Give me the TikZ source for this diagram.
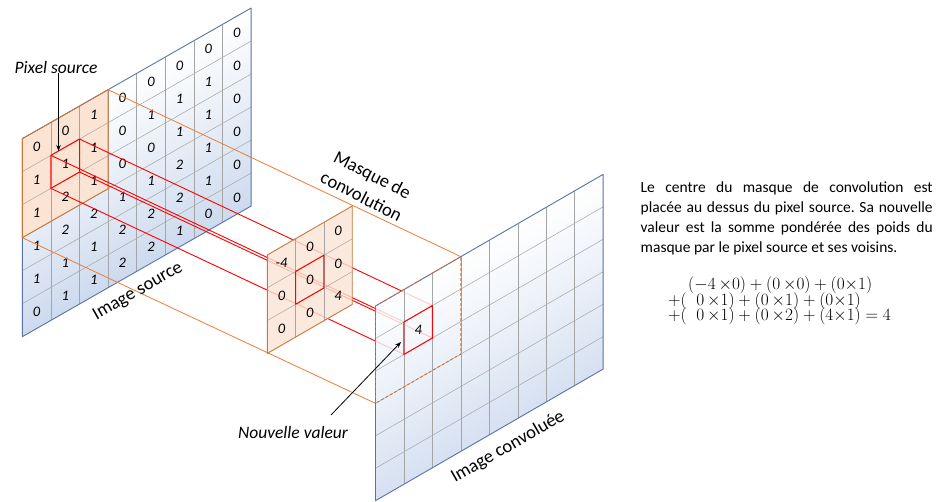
\documentclass[tikz,border=0pt]{standalone}
\usepackage[no-math]{fontspec}
\setmainfont{Carlito}
\usetikzlibrary{arrows.meta}
\definecolor{bluedge}{RGB}{88,114,168}
\definecolor{bluebot}{RGB}{205,218,238}
\definecolor{gridgray}{RGB}{165,165,165}
\definecolor{orfill}{RGB}{251,228,212}
\definecolor{orangeedge}{RGB}{200,118,58}
\definecolor{orline}{RGB}{237,125,49}
\definecolor{redline}{RGB}{255,0,0}
\frenchspacing
\begin{document}
\begin{tikzpicture}[
  gridl/.style={draw=gridgray, line width=0.5pt},
  planeedge/.style={draw=bluedge, line width=0.9pt, line join=round},
  oedge/.style={draw=orangeedge, line width=0.9pt, line join=round},
  ray/.style={draw=redline, line width=0.9pt},
  orray/.style={draw=orline, line width=0.8pt},
  redbox/.style={draw=redline, line width=1pt, line join=round},
  digit/.style={font=\fontsize{14.5}{14.5}\selectfont\itshape, inner sep=0pt},
  lbl/.style={font=\fontsize{18.5}{24}\selectfont, inner sep=0pt},
  ilbl/.style={font=\fontsize{17.5}{20}\selectfont\itshape, inner sep=0pt},
  pointer/.style={draw=black, line width=0.8pt, -{Stealth[length=6pt,width=4.5pt]}},
  eq/.style={font=\fontsize{16.5}{16.5}\selectfont, inner sep=0pt},
  srcframe/.style={shift={(22.3pt,-138.7pt)}, x={(28.6pt,16.33pt)}, y={(0pt,-33pt)}},
  mskframe/.style={shift={(267.3pt,-255pt)}, x={(28.33pt,16.33pt)}, y={(0pt,-32.8pt)}},
  outframe/.style={shift={(375.5pt,-306pt)}, x={(28.45pt,16.45pt)}, y={(0pt,-32.45pt)}}
]
\useasboundingbox (0pt,0pt) rectangle (940pt,-502pt);

% ---------- source image ----------
\begin{scope}[transform canvas={shift={(22.3pt,-138.7pt)}, yslant=0.571}]
  \shade[top color=white, bottom color=bluebot] (0pt,0pt) rectangle (228.8pt,-198pt);
\end{scope}
\begin{scope}[srcframe]
  \fill[orfill] (0,0) -- (3,0) -- (3,3) -- (0,3) -- cycle;
  \foreach \i in {1,...,7} \draw[gridl] (\i,0) -- (\i,6);
  \foreach \j in {1,...,5} \draw[gridl] (0,\j) -- (8,\j);
  \draw[planeedge] (0,0) -- (8,0) -- (8,6) -- (0,6) -- cycle;
  \draw[oedge] (0,0) -- (3,0) -- (3,3) -- (0,3) -- cycle;
  \foreach \row [count=\j from 0] in {{0,0,1,0,0,0,0,0},{1,1,1,0,1,1,1,0},{1,2,1,0,0,1,1,0},{1,2,2,1,1,2,1,0},{1,1,1,2,2,2,1,0},{0,1,1,2,2,1,0,0}}{
    \foreach \v [count=\i from 0] in \row {
      \node[digit] (s-\i-\j) at (\i+0.5,\j+0.5) {\v};
    }
  }
  \coordinate (sA) at (1,1);
  \coordinate (sB) at (2,1);
  \coordinate (sC) at (2,2);
  \coordinate (sD) at (1,2);
  \coordinate (sO1) at (3,0);
  \coordinate (sO2) at (0,3);
  \draw[redbox] (sA) -- (sB) -- (sC) -- (sD) -- cycle;
\end{scope}

% ---------- output coordinates ----------
\begin{scope}[outframe]
  \coordinate (oA) at (1,1);
  \coordinate (oB) at (2,1);
  \coordinate (oC) at (2,2);
  \coordinate (oD) at (1,2);
  \coordinate (oO1) at (3,0);
  \coordinate (oO2) at (0,3);
\end{scope}

% ---------- rays ----------
\draw[ray] (sA) -- (oA);
\draw[ray] (sB) -- (oB);
\draw[ray] (sC) -- (oC);
\draw[ray] (sD) -- (oD);
\draw[orray] (sO1) -- (oO1);
\draw[orray] (sO2) -- (oO2);

% ---------- mask ----------
\begin{scope}[mskframe]
  \fill[orfill, fill opacity=0.8] (0,0) -- (3,0) -- (3,3) -- (0,3) -- cycle;
  \foreach \i in {1,2} \draw[gridl] (\i,0) -- (\i,3);
  \foreach \j in {1,2} \draw[gridl] (0,\j) -- (3,\j);
  \draw[oedge] (0,0) -- (3,0) -- (3,3) -- (0,3) -- cycle;
  \foreach \row [count=\j from 0] in {{-4,0,0},{0,0,0},{0,0,4}}{
    \foreach \v [count=\i from 0] in \row {
      \node[digit] (m-\i-\j) at (\i+0.5,\j+0.5) {\v};
    }
  }
  \coordinate (mA) at (1,1);
  \coordinate (mB) at (2,1);
  \coordinate (mC) at (2,2);
  \coordinate (mD) at (1,2);
  \draw[redbox] (mA) -- (mB) -- (mC) -- (mD) -- cycle;
\end{scope}

% ---------- output image ----------
\begin{scope}[transform canvas={shift={(375.5pt,-306pt)}, yslant=0.5782}]
  \shade[top color=white, bottom color=bluebot, fill opacity=0.82] (0pt,0pt) rectangle (227.6pt,-194.7pt);
\end{scope}
\begin{scope}[outframe]
  \foreach \i in {1,...,7} \draw[gridl] (\i,0) -- (\i,6);
  \foreach \j in {1,...,5} \draw[gridl] (0,\j) -- (8,\j);
  \draw[planeedge] (0,0) -- (8,0) -- (8,6) -- (0,6) -- cycle;
  \draw[oedge, dash pattern=on 3pt off 2pt] (0,0) -- (3,0) -- (3,3) -- (0,3) -- cycle;
  \draw[redbox] (oA) -- (oB) -- (oC) -- (oD) -- cycle;
  \node[digit] (o-1-1) at (1.5,1.5) {4};
\end{scope}

% ---------- labels ----------
\node[ilbl] (pxlabel) at (56pt,-67pt) {Pixel source};
\coordinate (pxtip) at (58.5pt,-151pt);
\draw[pointer] (pxlabel.south -| pxtip) -- (pxtip);

\node[ilbl] (nvlabel) at (293pt,-432pt) {Nouvelle valeur};
\coordinate (nvstart) at (331pt,-415pt);
\coordinate (nvtip) at (401pt,-342pt);
\draw[pointer] (nvstart) -- (nvtip);

\node[lbl, rotate=29.7] (srclabel) at (138pt,-291.5pt) {Image source};
\node[lbl, rotate=-27, align=center] (msklabel) at (367pt,-185.5pt) {Masque de\\convolution};
\node[lbl, rotate=29.8] (outlabel) at (508pt,-447pt) {Image convoluée};

% ---------- explanation ----------
\node[anchor=north west, inner sep=0pt, text width=292pt, align=justify,
      font=\fontsize{15.5}{19.7}\selectfont] (para) at (640.5pt,-182pt)
  {Le centre du masque de convolution est\linebreak
   placée au dessus du pixel source. Sa nouvelle\linebreak
   valeur est la somme pondérée des poids du\linebreak
   masque par le pixel source et ses voisins.};

\node[eq, anchor=base west] (eq1) at (688pt,-290pt) {$(-4\,{\times}0)+(0\,{\times}0)+(0{\times}1)$};
\node[eq, anchor=base west] (eq2) at (668pt,-305.5pt) {${+}(\;\;0\,{\times}1)+(0\,{\times}1)+(0{\times}1)$};
\node[eq, anchor=base west] (eq3) at (668pt,-321pt) {${+}(\;\;0\,{\times}1)+(0\,{\times}2)+(4{\times}1)=4$};
\end{tikzpicture}
\end{document}
